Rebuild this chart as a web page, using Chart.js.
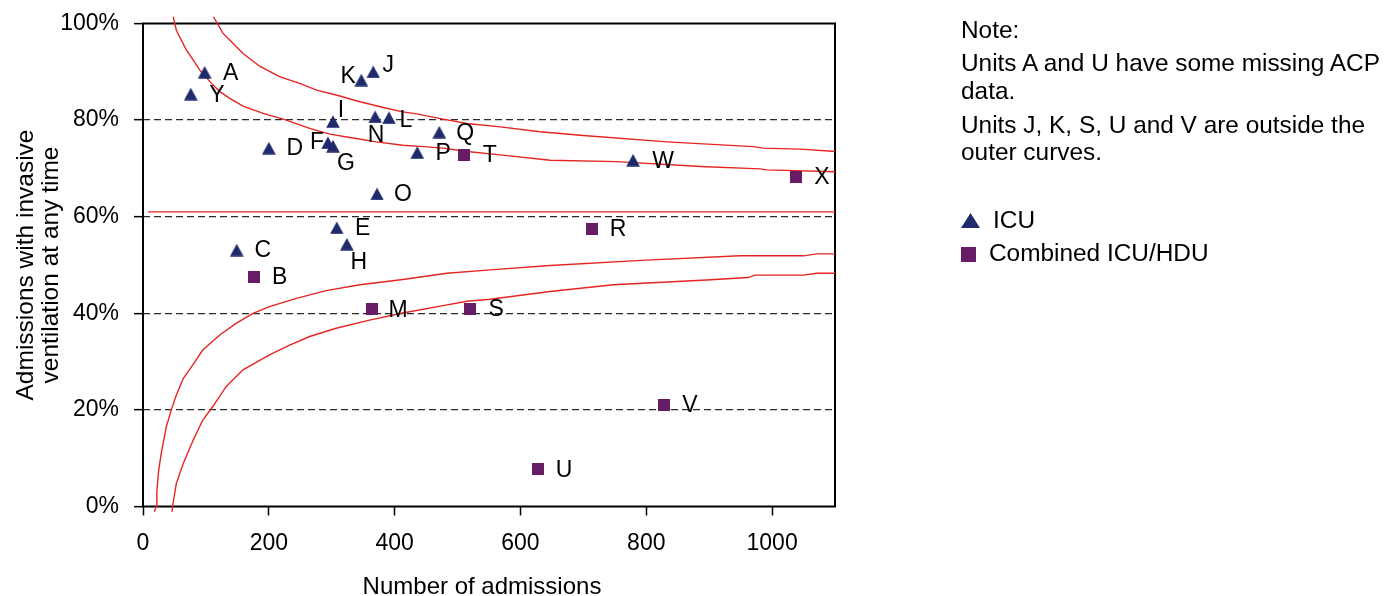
<!DOCTYPE html>
<html><head><meta charset="utf-8">
<script src="https://cdn.jsdelivr.net/npm/chart.js@4"></script>
<style>
html,body{margin:0;padding:0;background:#fff;}
#wrap{position:relative;width:1387px;height:596px;overflow:hidden;}
#c{position:absolute;left:0;top:0;}
.t{position:absolute;font-family:'Liberation Sans',Arial,sans-serif;font-size:24.4px;line-height:24px;color:#000;white-space:nowrap;}
.ic{position:absolute;}
</style></head>
<body><div id="wrap"><canvas id="c" width="1387" height="596"></canvas>
<div class="t" style="left:961px;top:18px">Note:</div>
<div class="t" style="left:961px;top:51.4px">Units A and U have some missing ACP</div>
<div class="t" style="left:961px;top:79px">data.</div>
<div class="t" style="left:961px;top:113px">Units J, K, S, U and V are outside the</div>
<div class="t" style="left:961px;top:140.2px">outer curves.</div>
<svg class="ic" style="left:961px;top:213px" width="19" height="15"><polygon points="9.5,0 19,15 0,15" fill="#1f2a6c"/></svg>
<div class="t" style="left:993px;top:207.7px">ICU</div>
<svg class="ic" style="left:961px;top:247px" width="15" height="15"><rect x="0" y="0" width="15" height="15" fill="#661d66"/></svg>
<div class="t" style="left:989px;top:241.4px">Combined ICU/HDU</div>
</div>
<script>
// ---- data ----
const xTickValues = [0, 200, 400, 600, 800, 1000];
const yTickValues = [0, 20, 40, 60, 80, 100];
const xAxisTitle = 'Number of admissions';
const yAxisTitle = ['Admissions with invasive', 'ventilation at any time'];

const icuUnits      = ['A','Y','K','J','I','N','L','D','F','G','O','E','H','C','Q','P','W'];
const icuAdmissions = [98, 76, 347, 366, 302, 369, 391, 200, 294, 302, 372, 308, 324, 149, 471, 436, 779];
const icuVentPct    = [89.9, 85.4, 88.3, 90.0, 79.7, 80.7, 80.5, 74.2, 75.3, 74.6, 64.7, 57.7, 54.3, 53.1, 77.5, 73.3, 71.7];

const combinedUnits      = ['B','T','X','R','M','S','V','U'];
const combinedAdmissions = [176, 510, 1038, 714, 364, 520, 828, 628];
const combinedVentPct    = [47.6, 72.8, 68.2, 57.5, 40.8, 40.9, 21.0, 7.7];

const meanN   = [8, 1100];
const meanPct = [61.0, 61.0];

const upperOuterN   = [112, 127, 143, 159, 186, 217, 249, 276, 307, 345, 382, 413, 435, 477, 515, 568, 631, 700, 833, 970, 986, 1045, 1100];
const upperOuterPct = [101.4, 98.0, 95.9, 93.8, 91.1, 89.0, 87.6, 86.2, 85.2, 83.8, 82.6, 81.7, 81.3, 80.2, 79.3, 78.6, 77.6, 76.8, 75.5, 74.5, 74.2, 74.0, 73.5];

const upperInnerN   = [48, 53, 69, 80, 90, 109, 122, 138, 159, 191, 223, 265, 297, 329, 371, 413, 446, 477, 515, 568, 647, 753, 886, 981, 992, 1100];
const upperInnerPct = [101.4, 98.6, 94.5, 92.4, 90.4, 87.6, 85.9, 84.5, 82.9, 81.4, 80.2, 78.3, 77.1, 76.4, 75.5, 74.8, 74.5, 74.2, 73.5, 72.8, 71.7, 71.4, 70.4, 69.9, 69.7, 69.3];

const lowerInnerN   = [18, 21, 22, 25, 29, 37, 45, 53, 64, 77, 95, 122, 148, 175, 201, 244, 291, 345, 413, 483, 552, 647, 800, 949, 1050, 1071, 1100];
const lowerInnerPct = [-1.1, 0, 3.1, 7.6, 11.0, 16.5, 20.0, 23.1, 26.5, 28.9, 32.4, 35.5, 37.9, 40.0, 41.4, 43.1, 44.7, 45.9, 47.0, 48.3, 49.0, 49.9, 51.0, 51.9, 51.9, 52.3, 52.3];

const lowerOuterN   = [46, 47, 53, 64, 80, 95, 111, 132, 159, 201, 233, 265, 307, 360, 411, 477, 515, 552, 647, 748, 896, 962, 973, 1050, 1071, 1100];
const lowerOuterPct = [-1.1, 0, 4.8, 8.9, 13.8, 17.9, 20.7, 24.8, 28.3, 31.4, 33.4, 35.2, 36.9, 38.6, 40.0, 41.6, 42.5, 42.9, 44.5, 45.9, 46.9, 47.4, 47.9, 47.9, 48.3, 48.3];

// ---- presentation ----
const FONT = "'Liberation Sans', Arial, sans-serif";
const ICU_COLOR = '#1f2a6c';
const COMB_COLOR = '#661d66';
const CURVE_COLOR = '#e52521';
const labelOffsets = {K:[-13,-4], J:[15,-7], I:[8,-12], N:[1,18], L:[17,2], F:[-11,-1], G:[13,16], H:[12,17], W:[30,0], Y:[26,1]};
const defaultOffset = [26, 0];

function triangleImage(color){
  const c = document.createElement('canvas');
  c.width = 14; c.height = 13;
  const g = c.getContext('2d');
  g.fillStyle = color;
  g.beginPath(); g.moveTo(7, 0.3); g.lineTo(13.8, 12.8); g.lineTo(0.2, 12.8); g.closePath(); g.fill();
  return c;
}
function squareImage(color){
  const c = document.createElement('canvas');
  c.width = 12; c.height = 12;
  const g = c.getContext('2d');
  g.fillStyle = color; g.fillRect(0, 0, 12, 12);
  return c;
}
const toXY = (xs, ys) => xs.map((x, i) => ({x, y: ys[i]}));

function curve(xs, ys){
  return {data: toXY(xs, ys), showLine: true, pointRadius: 0, borderColor: CURVE_COLOR, borderWidth: 1.4, clip: false, tension: 0};
}

const pointLabels = {
  id: 'pointLabels',
  afterDatasetsDraw(chart){
    const ctx = chart.ctx;
    ctx.save();
    ctx.font = '23px ' + FONT;
    ctx.fillStyle = '#000'; ctx.textAlign = 'center'; ctx.textBaseline = 'middle';
    chart.data.datasets.forEach((ds, i) => {
      if (!ds.unitNames) return;
      chart.getDatasetMeta(i).data.forEach((el, j) => {
        const name = ds.unitNames[j];
        const off = labelOffsets[name] || defaultOffset;
        ctx.fillText(name, el.x + off[0], el.y + off[1] + 1);
      });
    });
    ctx.restore();
  }
};
const frame = {
  id: 'frame',
  beforeDatasetsDraw(chart){
    const {ctx, chartArea: a} = chart;
    ctx.save();
    ctx.strokeStyle = '#000'; ctx.lineWidth = 2;
    ctx.strokeRect(a.left, a.top, a.right - a.left, a.bottom - a.top);
    ctx.restore();
  }
};
// x-axis title, centred slightly left of the plot centre as in the reference
const xTitle = {
  id: 'xTitle',
  afterDraw(chart){
    const ctx = chart.ctx, a = chart.chartArea;
    ctx.save();
    ctx.font = '24px ' + FONT;
    ctx.fillStyle = '#000'; ctx.textAlign = 'center'; ctx.textBaseline = 'middle';
    ctx.fillText(xAxisTitle, (a.left + a.right) / 2 - 7, 587);
    ctx.restore();
  }
};

Chart.defaults.font.family = FONT;
Chart.defaults.font.size = 23;
Chart.defaults.color = '#000';

new Chart(document.getElementById('c'), {
  type: 'scatter',
  data: {
    datasets: [
      {label: 'ICU', unitNames: icuUnits, data: toXY(icuAdmissions, icuVentPct), pointStyle: triangleImage(ICU_COLOR), pointRadius: 7, backgroundColor: ICU_COLOR, borderColor: ICU_COLOR},
      {label: 'Combined ICU/HDU', unitNames: combinedUnits, data: toXY(combinedAdmissions, combinedVentPct), pointStyle: squareImage(COMB_COLOR), pointRadius: 7, backgroundColor: COMB_COLOR, borderColor: COMB_COLOR},
      curve(meanN, meanPct),
      curve(upperOuterN, upperOuterPct),
      curve(upperInnerN, upperInnerPct),
      curve(lowerInnerN, lowerInnerPct),
      curve(lowerOuterN, lowerOuterPct)
    ]
  },
  options: {
    responsive: false, animation: false, devicePixelRatio: 1,
    layout: {padding: {left: 0, right: 552, top: 23.5, bottom: 0}},
    plugins: {legend: {display: false}, tooltip: {enabled: false}},
    scales: {
      x: {
        type: 'linear', min: 0, max: 1100,
        afterFit(s){ s.height = 89.5; s.paddingLeft = 0; s.paddingRight = 0; },
        afterBuildTicks(s){ s.ticks = xTickValues.map(v => ({value: v})); },
        grid: {drawOnChartArea: false, drawTicks: true, tickLength: 9, tickColor: '#000', tickWidth: 1.5},
        border: {display: false},
        ticks: {padding: 14, color: '#000', font: {size: 23}, maxRotation: 0, autoSkip: false, callback: v => String(v)},
        title: {display: false}
      },
      y: {
        type: 'linear', min: 0, max: 100,
        afterFit(s){ s.width = 143; s.paddingTop = 0; s.paddingBottom = 0; },
        afterBuildTicks(s){ s.ticks = yTickValues.map(v => ({value: v})); },
        grid: {
          color: c => (c.tick && (c.tick.value === 0 || c.tick.value === 100)) ? 'rgba(0,0,0,0)' : '#2a2a2a',
          lineWidth: 1.3, tickLength: 9, tickColor: '#000', tickWidth: 1.5, tickBorderDash: []
        },
        border: {display: false, dash: [7, 4]},
        ticks: {padding: 15, color: '#000', font: {size: 23}, callback: v => v + '%'},
        title: {display: true, text: yAxisTitle, color: '#000', font: {size: 24.5, lineHeight: 1.04}, padding: {top: 13.5, bottom: 0}}
      }
    }
  },
  plugins: [frame, pointLabels, xTitle]
});
</script>
</body></html>
